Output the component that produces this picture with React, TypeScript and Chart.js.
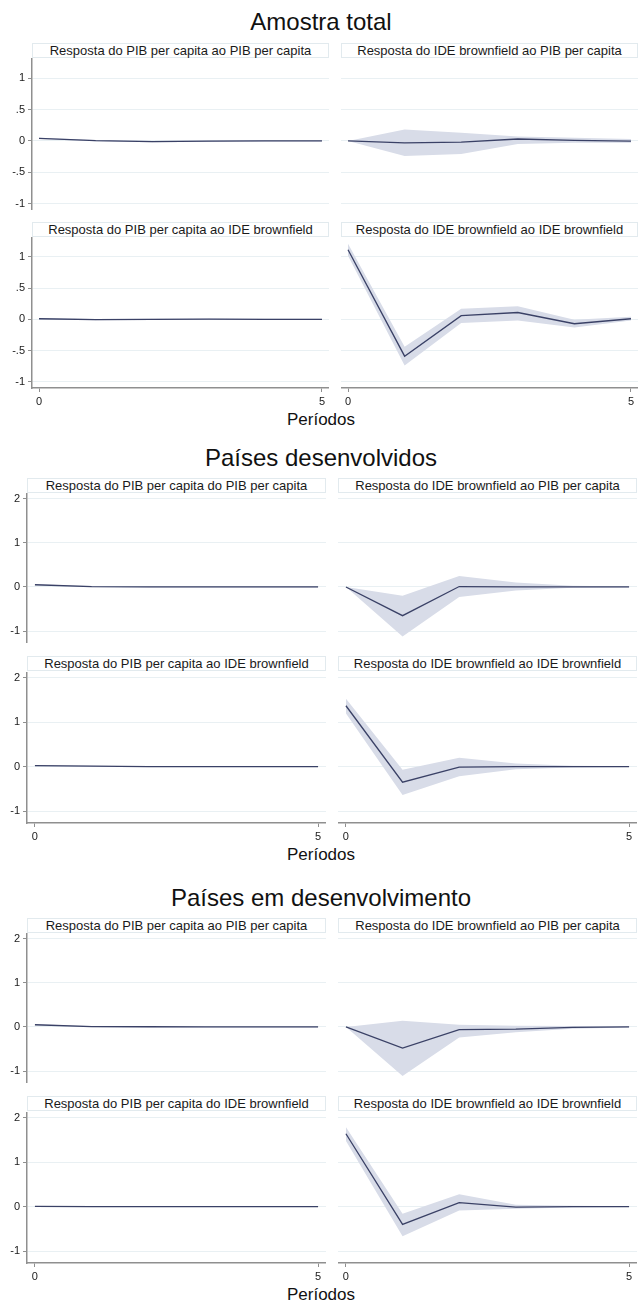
import React, { useEffect, useRef } from "react";
import { Chart, registerables } from "chart.js";

Chart.register(...registerables);
Chart.defaults.font.family = '"Liberation Sans", Arial, sans-serif';

// ---------- data ----------
const periods = [0, 1, 2, 3, 4, 5];

const groupTitles = ["Amostra total", "Países desenvolvidos", "Países em desenvolvimento"];
const xAxisTitle = "Períodos";

const yTicksTotal = [-1, -0.5, 0, 0.5, 1];
const yLabelsTotal = ["-1", "-.5", "0", ".5", "1"];
const yTicksSub = [-1, 0, 1, 2];
const yLabelsSub = ["-1", "0", "1", "2"];
const xTicks = [0, 5];

// Amostra total
const amPibPib = [0.04, 0.005, -0.01, -0.005, 0, 0];
const amPibPibLo = [0.03, -0.005, -0.02, -0.015, -0.01, -0.01];
const amPibPibHi = [0.05, 0.015, 0.0, 0.005, 0.01, 0.01];
const amIdePib = [0, -0.03, -0.02, 0.03, 0.01, -0.005];
const amIdePibLo = [0, -0.24, -0.21, -0.05, -0.03, -0.03];
const amIdePibHi = [0, 0.18, 0.13, 0.07, 0.05, 0.03];
const amPibIde = [0.01, -0.005, 0, 0.005, 0, 0];
const amPibIdeLo = [0.0, -0.015, -0.01, -0.005, -0.01, -0.01];
const amPibIdeHi = [0.02, 0.005, 0.01, 0.015, 0.01, 0.01];
const amIdeIde = [1.115, -0.59, 0.06, 0.11, -0.07, 0.01];
const amIdeIdeLo = [1.02, -0.74, -0.06, -0.02, -0.13, -0.02];
const amIdeIdeHi = [1.21, -0.44, 0.17, 0.21, -0.005, 0.04];

// Países desenvolvidos
const dePibPib = [0.05, 0.01, 0, 0, 0, 0];
const dePibPibLo = [0.04, 0.0, -0.01, -0.01, -0.01, -0.01];
const dePibPibHi = [0.06, 0.02, 0.01, 0.01, 0.01, 0.01];
const deIdePib = [0, -0.65, 0.01, 0, 0, 0];
const deIdePibLo = [0, -1.12, -0.23, -0.08, -0.02, -0.01];
const deIdePibHi = [0, -0.2, 0.25, 0.1, 0.03, 0.01];
const dePibIde = [0.02, 0.01, 0, 0, 0, 0];
const dePibIdeLo = [0.01, 0.0, -0.01, -0.01, -0.01, -0.01];
const dePibIdeHi = [0.03, 0.02, 0.01, 0.01, 0.01, 0.01];
const deIdeIde = [1.37, -0.35, -0.01, 0, 0, 0];
const deIdeIdeLo = [1.2, -0.64, -0.22, -0.06, -0.02, -0.01];
const deIdeIdeHi = [1.53, -0.07, 0.2, 0.07, 0.02, 0.01];

// Países em desenvolvimento
const edPibPib = [0.05, 0.01, 0.005, 0, 0, 0];
const edPibPibLo = [0.04, 0.0, -0.005, -0.01, -0.01, -0.01];
const edPibPibHi = [0.06, 0.02, 0.015, 0.01, 0.01, 0.01];
const edIdePib = [0, -0.48, -0.06, -0.05, -0.01, 0];
const edIdePibLo = [0, -1.11, -0.24, -0.12, -0.04, -0.01];
const edIdePibHi = [0, 0.14, 0.05, 0.03, 0.02, 0.01];
const edPibIde = [0.005, 0, 0, 0, 0, 0];
const edPibIdeLo = [-0.005, -0.01, -0.01, -0.01, -0.01, -0.01];
const edPibIdeHi = [0.015, 0.01, 0.01, 0.01, 0.01, 0.01];
const edIdeIde = [1.64, -0.4, 0.09, -0.01, 0, 0];
const edIdeIdeLo = [1.48, -0.67, -0.09, -0.05, -0.02, -0.01];
const edIdeIdeHi = [1.79, -0.16, 0.28, 0.04, 0.02, 0.01];

const headersTotal = [
  "Resposta do PIB per capita ao PIB per capita",
  "Resposta do IDE brownfield ao PIB per capita",
  "Resposta do PIB per capita ao IDE brownfield",
  "Resposta do IDE brownfield ao IDE brownfield",
];
const headersDes = [
  "Resposta do PIB per capita do PIB per capita",
  "Resposta do IDE brownfield ao PIB per capita",
  "Resposta do PIB per capita ao IDE brownfield",
  "Resposta do IDE brownfield ao IDE brownfield",
];
const headersEmDes = [
  "Resposta do PIB per capita ao PIB per capita",
  "Resposta do IDE brownfield ao PIB per capita",
  "Resposta do PIB per capita do IDE brownfield",
  "Resposta do IDE brownfield ao IDE brownfield",
];

// ---------- style ----------
const LINE = "#3a4166";
const BAND = "#d8dce8";
const GRID = "#e9f0f3";
const AXIS = "#8f8f8f";
const TEXT = "#1a1a1a";
const FONT = '"Liberation Sans", Arial, sans-serif';
const X_AXIS_H = 22;

type PanelProps = {
  left: number;
  top: number;
  plotLeft: number;
  plotRight: number;
  plotH: number;
  showY: boolean;
  showX: boolean;
  yMin: number;
  yMax: number;
  xMin: number;
  xMax: number;
  yTicks: number[];
  yLabels: string[];
  irf: number[];
  lo: number[];
  hi: number[];
};

const pts = (arr: number[]) => periods.map((p, i) => ({ x: p, y: arr[i] }));

const zeroPad = (s: any) => {
  s.paddingTop = 0;
  s.paddingBottom = 0;
  s.paddingLeft = 0;
  s.paddingRight = 0;
};

function Panel(p: PanelProps) {
  const ref = useRef<HTMLCanvasElement>(null);
  const yW = p.showY ? p.plotLeft - p.left : 0;
  const width = p.plotRight - p.left;
  const height = p.plotH + (p.showX ? X_AXIS_H : 0);

  useEffect(() => {
    if (!ref.current) return;
    const chart = new Chart(ref.current, {
      type: "line",
      data: {
        datasets: [
          { data: pts(p.irf), borderWidth: 1.3, pointRadius: 0, fill: false, borderColor: LINE },
          { data: pts(p.lo), borderWidth: 0, pointRadius: 0, fill: false, backgroundColor: BAND, borderColor: BAND },
          { data: pts(p.hi), borderWidth: 0, pointRadius: 0, fill: "-1", backgroundColor: BAND, borderColor: BAND },
        ],
      },
      options: {
        animation: false,
        responsive: false,
        maintainAspectRatio: false,
        layout: { padding: 0, autoPadding: false },
        plugins: { legend: { display: false }, tooltip: { enabled: false }, title: { display: false } },
        scales: {
          x: {
            type: "linear",
            min: p.xMin,
            max: p.xMax,
            display: p.showX,
            afterBuildTicks: (s: any) => {
              s.ticks = xTicks.map((v) => ({ value: v }));
            },
            afterFit: (s: any) => {
              s.height = p.showX ? X_AXIS_H : 0;
              zeroPad(s);
            },
            ticks: { font: { size: 11, family: FONT }, color: TEXT, padding: 3, maxRotation: 0, autoSkip: false },
            grid: { drawOnChartArea: false, tickLength: 4, tickColor: AXIS, tickWidth: 1 },
            border: { display: true, color: AXIS, width: 1.5 },
          },
          y: {
            type: "linear",
            min: p.yMin,
            max: p.yMax,
            afterBuildTicks: (s: any) => {
              s.ticks = p.yTicks.map((v) => ({ value: v }));
            },
            afterFit: (s: any) => {
              s.width = yW;
              zeroPad(s);
            },
            ticks: {
              display: p.showY,
              callback: (_v: any, i: number) => p.yLabels[i],
              font: { size: 11, family: FONT },
              color: TEXT,
              padding: 3,
              autoSkip: false,
            },
            grid: { color: GRID, lineWidth: 1, drawTicks: p.showY, tickLength: 4, tickColor: AXIS, tickWidth: 1 },
            border: { display: p.showY, color: AXIS, width: 1.5 },
          },
        },
      } as any,
    });
    return () => chart.destroy();
  }, []);

  return (
    <canvas
      ref={ref}
      width={width}
      height={height}
      style={{ position: "absolute", left: p.left, top: p.top, width, height }}
    />
  );
}

function Header({ left, right, top, text }: { left: number; right: number; top: number; text: string }) {
  return (
    <div
      style={{
        position: "absolute",
        left,
        top,
        width: right - left,
        height: 15,
        boxSizing: "border-box",
        border: "1px solid #e2eaee",
        background: "#ffffff",
        fontFamily: FONT,
        fontSize: 13,
        lineHeight: "13px",
        textAlign: "center",
        color: TEXT,
        whiteSpace: "nowrap",
      }}
    >
      {text}
    </div>
  );
}

function CenterText({ y, size, text }: { y: number; size: number; text: string }) {
  return (
    <div
      style={{
        position: "absolute",
        left: 0,
        width: 642,
        top: y - size * 0.6,
        fontFamily: FONT,
        fontSize: size,
        lineHeight: `${size * 1.2}px`,
        textAlign: "center",
        color: "#111",
        whiteSpace: "nowrap",
      }}
    >
      {text}
    </div>
  );
}

type Group = {
  title: string;
  titleY: number;
  xLabelY: number;
  headers: string[];
  topHeader: number;
  topPlot: number;
  topH: number;
  botHeader: number;
  botPlot: number;
  botH: number;
  lCol: [number, number];
  rCol: [number, number];
  yMin: number;
  yMax: number;
  xMin: number;
  xMax: number;
  yTicks: number[];
  yLabels: string[];
  series: { irf: number[]; lo: number[]; hi: number[] }[];
};

const groups: Group[] = [
  {
    title: groupTitles[0],
    titleY: 22,
    xLabelY: 420,
    headers: headersTotal,
    topHeader: 43,
    topPlot: 58,
    topH: 152,
    botHeader: 222,
    botPlot: 237,
    botH: 151,
    lCol: [32, 329],
    rCol: [341, 638],
    yMin: -1.1,
    yMax: 1.32,
    xMin: -0.124,
    xMax: 5.124,
    yTicks: yTicksTotal,
    yLabels: yLabelsTotal,
    series: [
      { irf: amPibPib, lo: amPibPibLo, hi: amPibPibHi },
      { irf: amIdePib, lo: amIdePibLo, hi: amIdePibHi },
      { irf: amPibIde, lo: amPibIdeLo, hi: amPibIdeHi },
      { irf: amIdeIde, lo: amIdeIdeLo, hi: amIdeIdeHi },
    ],
  },
  {
    title: groupTitles[1],
    titleY: 458,
    xLabelY: 855,
    headers: headersDes,
    topHeader: 478,
    topPlot: 493,
    topH: 150,
    botHeader: 656,
    botPlot: 672,
    botH: 151,
    lCol: [27, 326],
    rCol: [338, 637],
    yMin: -1.27,
    yMax: 2.13,
    xMin: -0.14,
    xMax: 5.14,
    yTicks: yTicksSub,
    yLabels: yLabelsSub,
    series: [
      { irf: dePibPib, lo: dePibPibLo, hi: dePibPibHi },
      { irf: deIdePib, lo: deIdePibLo, hi: deIdePibHi },
      { irf: dePibIde, lo: dePibIdeLo, hi: dePibIdeHi },
      { irf: deIdeIde, lo: deIdeIdeLo, hi: deIdeIdeHi },
    ],
  },
  {
    title: groupTitles[2],
    titleY: 898,
    xLabelY: 1295,
    headers: headersEmDes,
    topHeader: 918,
    topPlot: 933,
    topH: 150,
    botHeader: 1096,
    botPlot: 1112,
    botH: 151,
    lCol: [27, 326],
    rCol: [338, 637],
    yMin: -1.27,
    yMax: 2.13,
    xMin: -0.14,
    xMax: 5.14,
    yTicks: yTicksSub,
    yLabels: yLabelsSub,
    series: [
      { irf: edPibPib, lo: edPibPibLo, hi: edPibPibHi },
      { irf: edIdePib, lo: edIdePibLo, hi: edIdePibHi },
      { irf: edPibIde, lo: edPibIdeLo, hi: edPibIdeHi },
      { irf: edIdeIde, lo: edIdeIdeLo, hi: edIdeIdeHi },
    ],
  },
];

export default function App() {
  const items: React.ReactNode[] = [];
  groups.forEach((g, gi) => {
    items.push(<CenterText key={`t${gi}`} y={g.titleY} size={24} text={g.title} />);
    items.push(<CenterText key={`x${gi}`} y={g.xLabelY} size={17} text={xAxisTitle} />);
    for (let k = 0; k < 4; k++) {
      const isLeft = k % 2 === 0;
      const isBottom = k >= 2;
      const col = isLeft ? g.lCol : g.rCol;
      const headerTop = isBottom ? g.botHeader : g.topHeader;
      const plotTop = isBottom ? g.botPlot : g.topPlot;
      const plotH = isBottom ? g.botH : g.topH;
      items.push(<Header key={`h${gi}-${k}`} left={col[0]} right={col[1]} top={headerTop} text={g.headers[k]} />);
      items.push(
        <Panel
          key={`p${gi}-${k}`}
          left={isLeft ? 0 : col[0]}
          top={plotTop}
          plotLeft={col[0]}
          plotRight={col[1]}
          plotH={plotH}
          showY={isLeft}
          showX={isBottom}
          yMin={g.yMin}
          yMax={g.yMax}
          xMin={g.xMin}
          xMax={g.xMax}
          yTicks={g.yTicks}
          yLabels={g.yLabels}
          irf={g.series[k].irf}
          lo={g.series[k].lo}
          hi={g.series[k].hi}
        />
      );
    }
  });
  return (
    <div style={{ position: "absolute", left: 0, top: 0, width: 638, height: 1303, background: "#fff", overflow: "hidden" }}>
      {items}
    </div>
  );
}
